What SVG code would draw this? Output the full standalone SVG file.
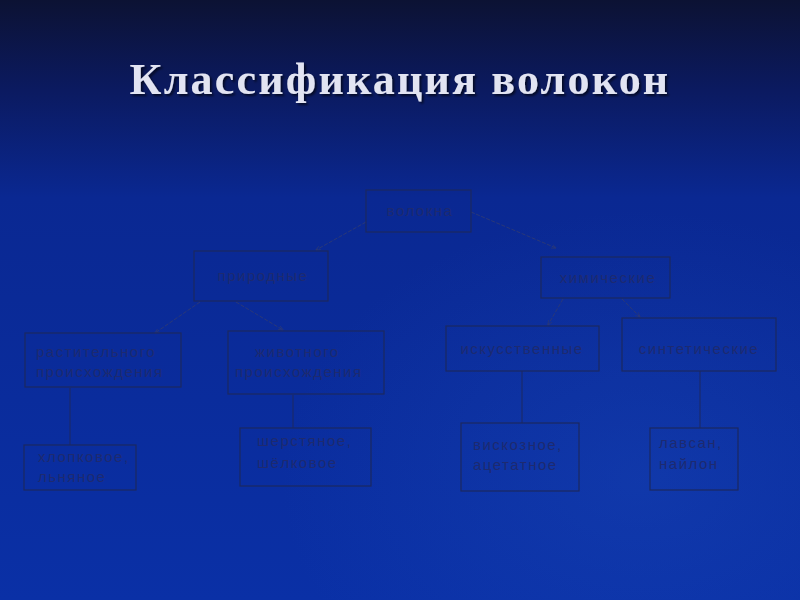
<svg xmlns="http://www.w3.org/2000/svg" width="800" height="600" viewBox="0 0 800 600">
<defs>
<linearGradient id="bg" x1="0" y1="0" x2="0" y2="1">
<stop offset="0" stop-color="#0c1233"/>
<stop offset="0.15" stop-color="#0b1a60"/>
<stop offset="0.33" stop-color="#0a2892"/>
<stop offset="1" stop-color="#0a30a6"/>
</linearGradient>
<radialGradient id="glow" cx="0.8" cy="0.8" r="0.45">
<stop offset="0" stop-color="#1f50c0" stop-opacity="0.3"/>
<stop offset="1" stop-color="#1f50c0" stop-opacity="0"/>
</radialGradient>
<marker id="ah" viewBox="0 0 10 10" refX="9" refY="5" markerWidth="5" markerHeight="5" orient="auto">
<path d="M0,1 L10,5 L0,9" fill="none" stroke="#2a3878" stroke-width="1.5"/>
</marker>
<filter id="sh" x="-5%" y="-20%" width="110%" height="140%">
<feDropShadow dx="2" dy="2" stdDeviation="1" flood-color="#000" flood-opacity="0.6"/>
</filter>
</defs>
<style>
.box{fill:none;stroke:#1c2860;stroke-width:1.2}
.t{font-family:"Liberation Sans",Arial,sans-serif;font-size:15px;fill:#1d2a70;letter-spacing:1.5px}
.c{stroke:#2a3878;stroke-width:1;fill:none;stroke-dasharray:4 1.5}
.v{stroke:#1c2860;stroke-width:1;fill:none}
</style>
<rect width="800" height="600" fill="url(#bg)"/>
<rect width="800" height="600" fill="url(#glow)"/>
<text x="400" y="94" text-anchor="middle" font-family="Liberation Serif,'Times New Roman',serif" font-weight="bold" font-size="44" fill="#e2e4f2" letter-spacing="2.2" filter="url(#sh)">Классификация волокон</text>
<g id="connectors">
<line class="c" x1="366" y1="222" x2="316" y2="250" marker-end="url(#ah)"/>
<line class="c" x1="471" y1="212" x2="556" y2="248" marker-end="url(#ah)"/>
<line class="c" x1="200" y1="302" x2="155" y2="333" marker-end="url(#ah)"/>
<line class="c" x1="236" y1="302" x2="283" y2="330" marker-end="url(#ah)"/>
<line class="c" x1="563" y1="299" x2="548" y2="325" marker-end="url(#ah)"/>
<line class="c" x1="622" y1="299" x2="640" y2="317" marker-end="url(#ah)"/>
<line class="v" x1="70" y1="388" x2="70" y2="445"/>
<line class="v" x1="293" y1="395" x2="293" y2="428"/>
<line class="v" x1="522" y1="371" x2="522" y2="423"/>
<line class="v" x1="700" y1="371" x2="700" y2="428"/>
</g>
<g id="n-volokna"><rect class="box" x="366" y="190" width="105" height="42"/><text class="t" x="420" y="216" text-anchor="middle">волокна</text></g>
<g id="n-prirodnye"><rect class="box" x="194" y="251" width="134" height="50"/><text class="t" x="263" y="281" text-anchor="middle">природные</text></g>
<g id="n-himicheskie"><rect class="box" x="541" y="257" width="129" height="41"/><text class="t" x="608" y="283" text-anchor="middle">химические</text></g>
<g id="n-rast"><rect class="box" x="25" y="333" width="156" height="54"/><text class="t" x="36" y="357">растительного</text><text class="t" x="36" y="377">происхождения</text></g>
<g id="n-zhiv"><rect class="box" x="228" y="331" width="156" height="63"/><text class="t" x="255" y="357">животного</text><text class="t" x="235" y="377">происхождения</text></g>
<g id="n-isk"><rect class="box" x="446" y="326" width="153" height="45"/><text class="t" x="522" y="354" text-anchor="middle">искусственные</text></g>
<g id="n-sint"><rect class="box" x="622" y="318" width="154" height="53"/><text class="t" x="699" y="354" text-anchor="middle">синтетические</text></g>
<g id="n-hlop"><rect class="box" x="24" y="445" width="112" height="45"/><text class="t" x="38" y="462">хлопковое,</text><text class="t" x="38" y="482">льняное</text></g>
<g id="n-sher"><rect class="box" x="240" y="428" width="131" height="58"/><text class="t" x="257" y="446">шерстяное,</text><text class="t" x="257" y="468">шёлковое</text></g>
<g id="n-visk"><rect class="box" x="461" y="423" width="118" height="68"/><text class="t" x="473" y="450">вискозное,</text><text class="t" x="473" y="470">ацетатное</text></g>
<g id="n-lavs"><rect class="box" x="650" y="428" width="88" height="62"/><text class="t" x="659" y="448">лавсан,</text><text class="t" x="659" y="469">найлон</text></g>
</svg>
